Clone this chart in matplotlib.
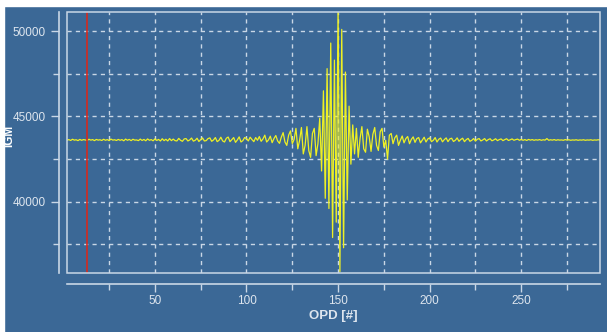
import numpy as np
import matplotlib
matplotlib.use("Agg")
import matplotlib.pyplot as plt
from matplotlib.patches import Rectangle

# interferogram samples, one per OPD step
igm = [
    43620, 43650, 43600, 43640, 43590, 43660, 43610, 43630, 43580, 43650,
    43600, 43640, 43620, 43590, 43660, 43610, 43640, 43580, 43650, 43610,
    43630, 43590, 43660, 43600, 43640, 43580, 43670, 43610, 43630, 43590,
    43650, 43600, 43640, 43570, 43670, 43600, 43650, 43580, 43660, 43610,
    43620, 43580, 43670, 43590, 43650, 43570, 43680, 43600, 43640, 43570,
    43680, 43590, 43650, 43560, 43690, 43580, 43660, 43560, 43700, 43580,
    43670, 43580, 43560, 43710, 43600, 43540, 43680, 43700, 43560, 43620,
    43730, 43550, 43600, 43720, 43530, 43640, 43740, 43560, 43580, 43700,
    43740, 43540, 43620, 43760, 43520, 43600, 43780, 43560, 43500, 43720,
    43790, 43520, 43640, 43760, 43480, 43620, 43800, 43500, 43580, 43760,
    43700, 43560, 43780, 43640, 43520, 43760, 43600, 43820, 43540, 43680,
    43900, 43500, 43620, 43840, 43460, 43700, 43880, 43560, 43420, 43780,
    44050, 43500, 43300, 43900, 44150, 43400, 43650, 44300, 43100, 43600,
    44350, 42800, 43300, 44400, 43000, 42600, 44000, 44300, 42700, 43400,
    44900, 41800, 46500, 40200, 47800, 39600, 49300, 37900, 48300, 38800,
    51500, 35900, 50100, 37300, 47600, 40100, 45600, 42200, 44500, 42800,
    44300, 42600, 43700, 44400, 43100, 42900, 44250, 43800, 42950, 43950,
    44350, 43300, 43000, 44100, 44300, 43200, 43600, 42500, 43900, 44000,
    43400, 43750, 43900, 43300, 43600, 43850, 43450, 43700, 43820, 43400,
    43650, 43800, 43480, 43700, 43760, 43450, 43620, 43780, 43500, 43680,
    43740, 43520, 43600, 43760, 43500, 43660, 43730, 43510, 43640, 43740,
    43520, 43680, 43720, 43530, 43600, 43740, 43540, 43650, 43720, 43520,
    43640, 43710, 43540, 43600, 43700, 43550, 43660, 43700, 43560, 43620,
    43700, 43560, 43640, 43690, 43570, 43620, 43690, 43580, 43640, 43680,
    43580, 43640, 43690, 43590, 43630, 43680, 43600, 43640, 43670, 43600,
    43650, 43600, 43640, 43590, 43650, 43610, 43640, 43600, 43630, 43610,
    43640, 43600, 43630, 43610, 43700, 43600, 43630, 43610, 43640, 43600,
    43630, 43610, 43620, 43600, 43640, 43610, 43630, 43600, 43620, 43610,
    43630, 43600, 43620, 43610, 43630, 43600, 43620, 43610, 43630, 43600,
    43620, 43610, 43630, 43620,
]
opd = np.arange(len(igm))
cursor_opd = 13

x_major = [50, 100, 150, 200, 250]
x_minor = [25, 75, 125, 175, 225, 275]
y_major = [40000, 45000, 50000]
y_minor = [37500, 42500, 47500]

bg = '#3b6896'
light = '#c9d7e6'
txt = '#dde5ee'

plt.rcParams['font.family'] = ['Liberation Sans', 'DejaVu Sans']

fig = plt.figure(figsize=(6.07, 3.32), dpi=100, facecolor=bg)
ax = fig.add_axes([67/607, 59/332, 533/607, 261/332], facecolor=bg)

ax.plot(opd, igm, color='#eef024', lw=0.9, zorder=3)
ax.axvline(cursor_opd, color='#d42a1e', lw=1.2, zorder=4)

ax.set_xlim(2, 293)
ax.set_ylim(35820, 51120)

ax.set_xticks(x_major)
ax.set_xticks(x_minor, minor=True)
ax.set_yticks(y_major)
ax.set_yticks(y_minor, minor=True)
ax.grid(True, which='both', color=light, linestyle=(0, (3, 3)), lw=1, zorder=1)

for s in ['top', 'right']:
    ax.spines[s].set_visible(False)
ax.spines['left'].set_position(('outward', 6))
ax.spines['bottom'].set_position(('outward', 8))
ax.spines['left'].set_color(light)
ax.spines['bottom'].set_color(light)
ax.spines['left'].set_linewidth(1.2)
ax.spines['bottom'].set_linewidth(1.2)

ax.add_patch(Rectangle((0, 0), 1, 1, transform=ax.transAxes, fill=False,
                       edgecolor=light, lw=1.1, zorder=5, clip_on=False))

ax.tick_params(axis='both', which='major', colors=light, labelcolor=txt,
               labelsize=8.5, length=6, width=1)
ax.tick_params(axis='both', which='minor', colors=light, length=4, width=1)
ax.tick_params(axis='x', which='both', direction='out', pad=2)

ax.set_xlabel('OPD [#]', color=txt, fontsize=9.5, fontweight='bold', labelpad=2)
ax.set_ylabel('IGM', color='white', fontsize=8.5, fontweight='bold')
ax.yaxis.set_label_coords(-0.098, 0.525)

# white screenshot borders on top and left
fig.patches.append(Rectangle((0, 326/332), 1, 6/332, transform=fig.transFigure,
                             color='white', zorder=10))
fig.patches.append(Rectangle((0, 0), 4/607, 1, transform=fig.transFigure,
                             color='white', zorder=10))

fig.savefig('out.png', dpi=100, facecolor=bg)
